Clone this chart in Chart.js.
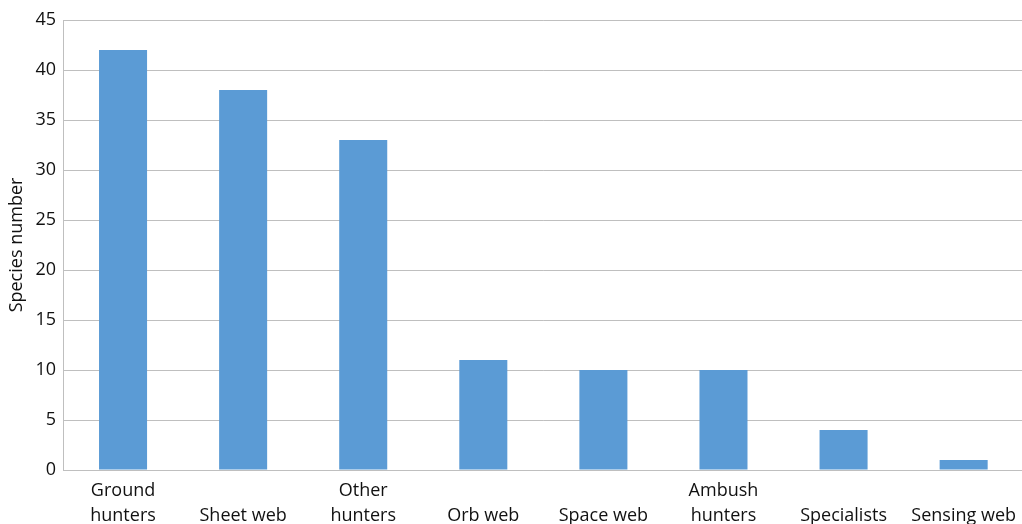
<!DOCTYPE html>
<html>
<head>
<meta charset="utf-8">
<script src="https://cdn.jsdelivr.net/npm/chart.js@4/dist/chart.umd.min.js"></script>
<style>
  html, body { margin: 0; padding: 0; background: #fff; overflow: hidden; }
  canvas { display: block; }
</style>
</head>
<body>
<canvas id="speciesChart" width="1024" height="537"></canvas>
<script>
// Guild categories (two lines each; single-line labels sit on the lower line)
const guilds = [
  ['Ground', 'hunters'],
  ['', 'Sheet web'],
  ['Other', 'hunters'],
  ['', 'Orb web'],
  ['', 'Space web'],
  ['Ambush', 'hunters'],
  ['', 'Specialists'],
  ['', 'Sensing web']
];
const speciesCounts = [42, 38, 33, 11, 10, 10, 4, 1];
const yMin = 0;
const yMax = 45;
const yStep = 5;

const fontFamily = '"Open Sans", "Noto Sans", sans-serif';

const ctx = document.getElementById('speciesChart').getContext('2d');
new Chart(ctx, {
  type: 'bar',
  data: {
    labels: guilds,
    datasets: [{
      label: 'Species number',
      data: speciesCounts,
      backgroundColor: '#5b9bd5',
      borderWidth: 0,
      barPercentage: 0.4,
      categoryPercentage: 1.0
    }]
  },
  options: {
    responsive: false,
    animation: false,
    layout: { padding: { left: 0, top: 20, right: 0, bottom: 0 } },
    plugins: {
      legend: { display: false },
      tooltip: { enabled: false }
    },
    scales: {
      x: {
        grid: { display: false, drawTicks: false },
        border: { display: true, color: '#bfbfbf', width: 1 },
        ticks: {
          color: '#111',
          font: { family: fontFamily, size: 18, lineHeight: 1.4 },
          maxRotation: 0,
          autoSkip: false,
          padding: 8
        },
        afterFit: (scale) => { scale.height = 67; }
      },
      y: {
        min: yMin,
        max: yMax,
        grid: { color: '#bfbfbf', drawTicks: false },
        border: { display: true, color: '#bfbfbf', width: 1 },
        ticks: {
          stepSize: yStep,
          color: '#111',
          font: { family: fontFamily, size: 18 },
          padding: 7
        },
        title: {
          display: true,
          text: 'Species number',
          color: '#111',
          font: { family: fontFamily, size: 18 },
          padding: { top: 6, bottom: 0 }
        },
        afterFit: (scale) => { scale.width = 63; }
      }
    }
  }
});
</script>
</body>
</html>
